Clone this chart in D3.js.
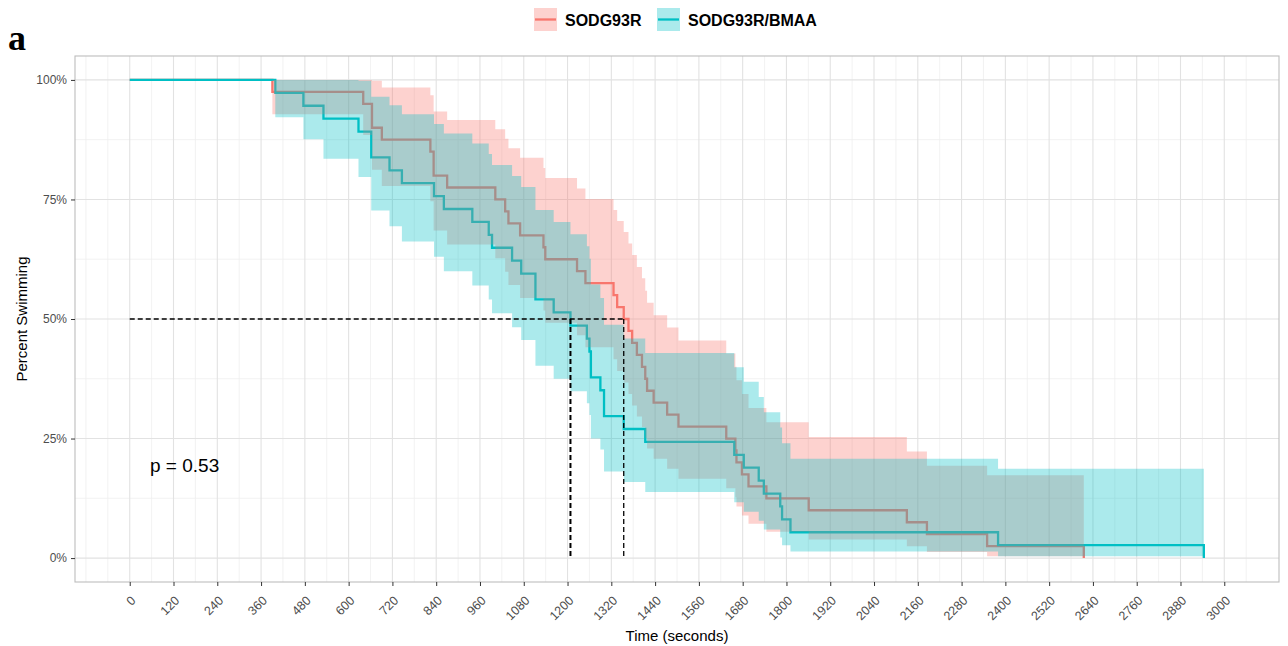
<!DOCTYPE html>
<html><head><meta charset="utf-8">
<script src="https://cdn.jsdelivr.net/npm/d3@7"></script>
<style>body{margin:0;background:#fff}svg{display:block}</style>
</head><body>
<svg id="chart" width="1288" height="646"></svg>
<script>
// ---- data ----
const groups = ["SODG93R", "SODG93R/BMAA"];
const groupColors = ["#F8766D", "#00BFC4"];
const xTicks = [0,120,240,360,480,600,720,840,960,1080,1200,1320,1440,1560,1680,1800,1920,2040,2160,2280,2400,2520,2640,2760,2880,3000];
const xMinor = [-120,-60,60,180,300,420,540,660,780,900,1020,1140,1260,1380,1500,1620,1740,1860,1980,2100,2220,2340,2460,2580,2700,2820,2940,3060];
const yTicks = [0,25,50,75,100];
const yMinor = [12.5,37.5,62.5,87.5];

const redTime  = [0,391,640,664,691,824,833,870,1002,1029,1038,1070,1134,1139,1226,1249,1326,1336,1354,1367,1377,1390,1404,1413,1418,1436,1473,1504,1635,1660,1663,1678,1696,1745,1861,2130,2185,2350,2615];
const redSurv  = [100,97.5,95,90,87.5,85,80,77.5,75,72.5,70,67.5,65,62.5,60,57.5,55,52.5,50,47.5,45,42.5,40,37.5,35,32.5,30,27.5,25,22.5,20,17.5,15,12.5,10,7.5,5,2.5,0];
const redUpper = [100,100,100,99.8,98.4,96.8,93.4,91.6,89.7,87.7,85.7,83.7,81.6,79.5,77.3,75.1,72.8,70.5,68.2,65.8,63.4,60.9,58.5,55.9,53.4,50.8,48.2,45.5,42.8,40.0,37.2,34.3,31.4,28.4,25.3,22.3,19.3,17.3,null];
const redLower = [100,92.8,88.5,81.2,77.8,74.6,68.5,65.6,62.7,59.9,57.1,54.4,51.8,49.2,46.6,44.1,41.6,39.1,36.7,34.3,31.9,29.6,27.4,25.1,22.9,20.8,18.7,16.6,14.6,12.7,10.8,8.9,7.2,5.5,3.9,2.5,1.3,0.4,null];

const cyanTime  = [0,399,476,531,627,662,712,746,834,861,939,984,993,1048,1073,1112,1162,1208,1253,1260,1264,1290,1300,1354,1413,1657,1683,1724,1738,1783,1788,1811,2380,2944];
const cyanSurv  = [100,97.3,94.6,91.9,89.2,83.8,81.1,78.4,75.7,73.0,70.3,67.6,64.9,62.2,59.5,54.1,51.4,48.6,45.9,43.2,37.8,35.1,29.7,27.0,24.3,21.6,18.9,16.2,13.5,10.8,8.1,5.4,2.7,0];
const cyanUpper = [100,100,100,100,99.8,96.5,94.7,92.8,90.8,88.8,86.7,84.5,82.2,79.9,77.6,72.8,70.3,67.7,65.2,62.6,57.2,54.4,48.8,45.9,42.9,39.9,36.9,33.7,30.5,27.3,24.0,20.8,18.7,null];
const cyanLower = [100,92.2,87.6,83.5,79.7,72.7,69.4,66.2,63.0,60.0,57.0,54.1,51.2,48.3,45.6,40.2,37.5,34.9,32.4,29.9,25.0,22.7,18.1,15.9,13.8,11.7,9.7,7.8,6.0,4.3,2.7,1.4,0.4,null];

const medianTimes = [1208, 1354];
const pLabel = "p = 0.53";

// ---- layout ----
const FONT = "'Liberation Sans', Arial, sans-serif";
const svg = d3.select("#chart");
const L = 75, R = 1279, T = 56, B = 582;
const x = d3.scaleLinear().domain([-150, 3150]).range([L, R]);
const y = d3.scaleLinear().domain([-5, 105]).range([B, T]);

svg.append("rect").attr("width",1288).attr("height",646).attr("fill","#fff");

// grid
const grid = svg.append("g");
xMinor.forEach(v => grid.append("line").attr("x1",x(v)).attr("x2",x(v)).attr("y1",T).attr("y2",B)
  .attr("stroke","#EFEFEF").attr("stroke-width",0.8));
yMinor.forEach(v => grid.append("line").attr("x1",L).attr("x2",R).attr("y1",y(v)).attr("y2",y(v))
  .attr("stroke","#EFEFEF").attr("stroke-width",0.8));
xTicks.forEach(v => grid.append("line").attr("x1",x(v)).attr("x2",x(v)).attr("y1",T).attr("y2",B)
  .attr("stroke","#E2E2E2").attr("stroke-width",1.1));
yTicks.forEach(v => grid.append("line").attr("x1",L).attr("x2",R).attr("y1",y(v)).attr("y2",y(v))
  .attr("stroke","#E2E2E2").attr("stroke-width",1.1));

const series = [
  {name: groups[0], color: groupColors[0], time: redTime, surv: redSurv, up: redUpper, lo: redLower},
  {name: groups[1], color: groupColors[1], time: cyanTime, surv: cyanSurv, up: cyanUpper, lo: cyanLower}
];

const line = d3.line().x(d => x(d.t)).y(d => y(d.s)).curve(d3.curveStepAfter);
const area = d3.area().x(d => x(d.t)).y0(d => y(d.lo)).y1(d => y(d.hi)).curve(d3.curveStepAfter);

// survival lines (drawn beneath ribbons, as in ggsurvplot)
series.forEach(s => {
  const pts = s.time.map((t,i) => ({t, s: s.surv[i]}));
  svg.append("path").attr("d", line(pts)).attr("fill","none")
    .attr("stroke", s.color).attr("stroke-width", 2.3);
});

// confidence ribbons
series.forEach(s => {
  const n = s.time.length;
  const pts = [];
  for (let i = 0; i < n - 1; i++) pts.push({t: s.time[i], lo: s.lo[i], hi: s.up[i]});
  pts.push({t: s.time[n-1], lo: s.lo[n-2], hi: s.up[n-2]});
  svg.append("path").attr("d", area(pts)).attr("fill", s.color).attr("fill-opacity", 0.33);
});

// median lines
const med = svg.append("g").attr("stroke","#000").attr("fill","none");
med.append("line").attr("x1",x(0)).attr("x2",x(d3.max(medianTimes))).attr("y1",y(50)).attr("y2",y(50))
  .attr("stroke-width",1.5).attr("stroke-dasharray","5,3");
medianTimes.forEach((m,i) => med.append("line").attr("x1",x(m)).attr("x2",x(m)).attr("y1",y(50)).attr("y2",y(0))
  .attr("stroke-width", i === 0 ? 2 : 1.3).attr("stroke-dasharray","5,3"));

// p value
svg.append("text").attr("x",150).attr("y",472).attr("font-family",FONT).attr("font-size",19)
  .attr("fill","#000").text(pLabel);

// panel border
svg.append("rect").attr("x",L).attr("y",T).attr("width",R-L).attr("height",B-T)
  .attr("fill","none").attr("stroke","#BDBDBD").attr("stroke-width",1.1);

// axes
const xAxis = svg.append("g").attr("transform",`translate(0,${B})`)
  .call(d3.axisBottom(x).tickValues(xTicks).tickFormat(d => String(d)).tickSize(4).tickSizeOuter(0));
xAxis.select(".domain").remove();
xAxis.selectAll(".tick line").attr("stroke","#333").attr("stroke-width",1);
xAxis.selectAll(".tick text").attr("y",0).attr("x",0).attr("dy","0.71em")
  .attr("transform","translate(0,13) rotate(-45)").attr("text-anchor","end")
  .attr("font-family",FONT).attr("font-size",12.5).attr("fill","#4D4D4D");

const yAxis = svg.append("g").attr("transform",`translate(${L},0)`)
  .call(d3.axisLeft(y).tickValues(yTicks).tickFormat(d => d + "%").tickSize(4).tickPadding(4).tickSizeOuter(0));
yAxis.select(".domain").remove();
yAxis.selectAll(".tick line").attr("stroke","#333").attr("stroke-width",1);
yAxis.selectAll(".tick text").attr("font-family",FONT).attr("font-size",12).attr("fill","#4D4D4D");

// axis titles
svg.append("text").attr("x",(L+R)/2).attr("y",641).attr("text-anchor","middle")
  .attr("font-family",FONT).attr("font-size",15).attr("fill","#000").text("Time (seconds)");
svg.append("text").attr("transform",`translate(27,${(T+B)/2}) rotate(-90)`).attr("text-anchor","middle")
  .attr("font-family",FONT).attr("font-size",15).attr("fill","#000").text("Percent Swimming");

// panel tag
svg.append("text").attr("x",8).attr("y",50).attr("font-family","'Liberation Serif', 'Times New Roman', serif")
  .attr("font-weight","bold").attr("font-size",36).attr("fill","#000").text("a");

// legend
const legendX = [534, 657];
const leg = svg.append("g");
series.forEach((s,i) => {
  const g = leg.append("g").attr("transform",`translate(${legendX[i]},8)`);
  g.append("rect").attr("width",23).attr("height",23).attr("fill",s.color).attr("fill-opacity",0.33);
  g.append("line").attr("x1",1).attr("x2",22).attr("y1",11.5).attr("y2",11.5)
    .attr("stroke",s.color).attr("stroke-width",2.3);
  g.append("text").attr("x",31).attr("y",17.7).attr("font-family",FONT).attr("font-weight","bold")
    .attr("font-size",16).attr("fill","#000").text(s.name);
});
</script>
</body></html>
